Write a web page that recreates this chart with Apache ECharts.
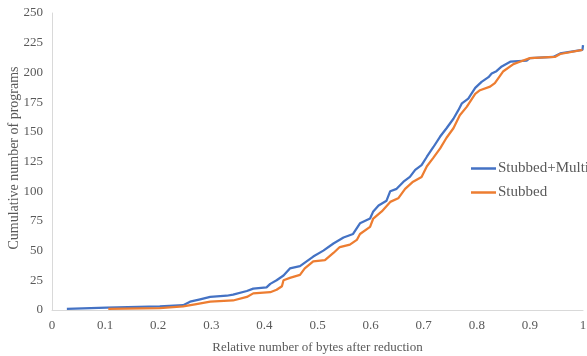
<!DOCTYPE html>
<html>
<head>
<meta charset="utf-8">
<script src="https://cdn.jsdelivr.net/npm/echarts@6/dist/echarts.min.js"></script>
<style>html,body{margin:0;padding:0;background:#fff;}#c{width:587px;height:356px;}</style>
</head>
<body>
<div id="c"></div>
<script>
var seriesNames = ["Stubbed+Multi", "Stubbed"];
var xTicks = [0, 0.1, 0.2, 0.3, 0.4, 0.5, 0.6, 0.7, 0.8, 0.9, 1];
var yTicks = [0, 25, 50, 75, 100, 125, 150, 175, 200, 225, 250];
var xTitle = 'Relative number of bytes after reduction';
var yTitle = 'Cumulative number of programs';
var stubbedMulti = [[0.028,1],[0.103,2],[0.203,3],[0.247,4],[0.260,7],[0.279,9],[0.298,11],[0.329,12],[0.341,13],[0.367,16],[0.379,18],[0.404,19],[0.411,22],[0.423,25],[0.436,29],[0.448,35],[0.467,37],[0.492,45],[0.511,50],[0.530,56],[0.549,61],[0.567,64],[0.580,73],[0.599,77],[0.605,83],[0.615,88],[0.630,92],[0.637,100],[0.649,102],[0.662,108],[0.674,112],[0.684,118],[0.696,122],[0.706,129],[0.718,137],[0.731,146],[0.743,153],[0.756,161],[0.765,168],[0.772,174],[0.784,178],[0.797,187],[0.809,192],[0.822,196],[0.828,199],[0.837,201],[0.847,205],[0.863,209],[0.894,210],[0.900,212],[0.944,213],[0.957,216],[0.999,219],[1.0,223]];
var stubbed = [[0.106,1],[0.203,1.5],[0.247,3],[0.272,5],[0.298,7],[0.341,8],[0.367,11],[0.379,14],[0.411,15],[0.423,17],[0.433,20],[0.436,25],[0.448,27],[0.467,29.5],[0.476,35],[0.492,41],[0.514,42],[0.530,48],[0.542,53],[0.561,55],[0.574,59],[0.580,64],[0.599,70],[0.605,77],[0.621,83],[0.637,91],[0.652,94],[0.665,102],[0.680,108],[0.696,112],[0.706,121],[0.718,128],[0.731,136],[0.743,145],[0.756,153],[0.768,164],[0.781,171],[0.797,182],[0.806,185],[0.825,188],[0.834,191],[0.850,201],[0.869,207],[0.881,209],[0.900,212],[0.947,213],[0.957,215.5],[0.999,219]];

var font = "'Liberation Serif', 'DejaVu Serif', serif";
var chart = echarts.init(document.getElementById('c'));
chart.setOption({
  animation: false,
  backgroundColor: '#fff',
  grid: {left: 52, right: 4, top: 13, bottom: 46, containLabel: false, outerBoundsMode: 'none'},
  legend: {
    orient: 'vertical', left: 471, top: 161, padding: 0,
    itemWidth: 25, itemHeight: 2.5, itemGap: 9, icon: 'rect',
    textStyle: {fontFamily: font, fontSize: 15, color: '#595959', padding: [0,0,0,-3]},
    data: seriesNames
  },
  graphic: [{
    type: 'text', x: 14, y: 158, rotation: Math.PI / 2,
    style: {text: yTitle, font: '14px ' + font, fill: '#595959', align: 'center', verticalAlign: 'middle'}
  }],
  xAxis: {
    type: 'value', min: xTicks[0], max: xTicks[xTicks.length-1], interval: 0.1,
    name: xTitle, nameLocation: 'middle', nameGap: 31,
    nameMoveOverlap: false,
    nameTextStyle: {fontFamily: font, fontSize: 13, color: '#595959'},
    axisLine: {show: true, lineStyle: {color: '#d9d9d9', width: 1}},
    axisTick: {show: false}, splitLine: {show: false},
    axisLabel: {fontFamily: font, fontSize: 13, color: '#595959', margin: 9, hideOverlap: false,
      formatter: function(v){ return String(Math.round(v*10)/10); }}
  },
  yAxis: {
    type: 'value', min: yTicks[0], max: yTicks[yTicks.length-1], interval: 25,
    axisLine: {show: true, lineStyle: {color: '#d9d9d9', width: 1}},
    axisTick: {show: false}, splitLine: {show: false},
    axisLabel: {fontFamily: font, fontSize: 13, color: '#595959', margin: 9}
  },
  series: [
    {name: seriesNames[0], type: 'line', data: stubbedMulti, showSymbol: false, symbol: 'none',
     lineStyle: {color: '#4472C4', width: 2.25}, itemStyle: {color: '#4472C4'}},
    {name: seriesNames[1], type: 'line', data: stubbed, showSymbol: false, symbol: 'none',
     lineStyle: {color: '#ED7D31', width: 2.25}, itemStyle: {color: '#ED7D31'}}
  ]
});
</script>
</body>
</html>
